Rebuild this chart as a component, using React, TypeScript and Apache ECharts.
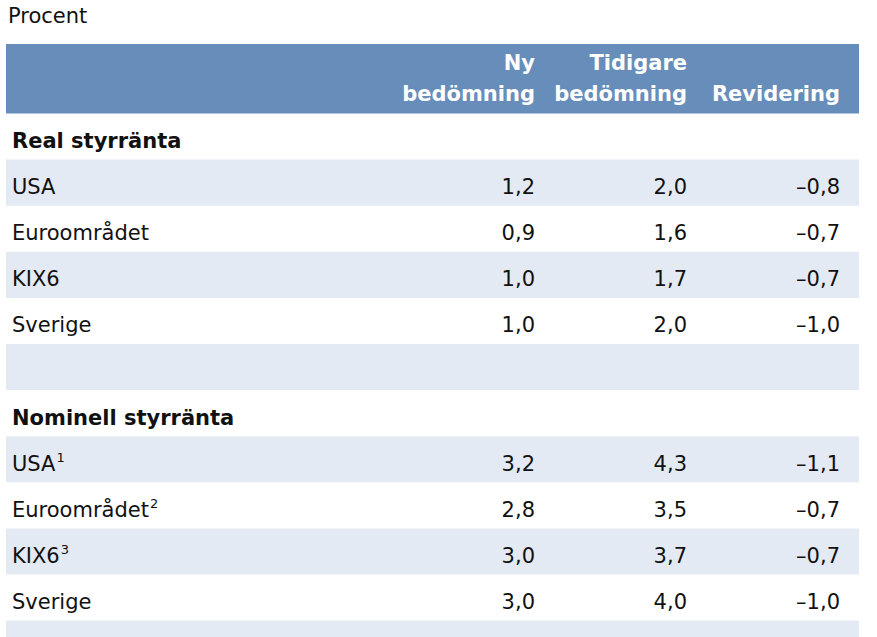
import React, { useEffect, useRef } from "react";
import * as echarts from "echarts";

const unitLabel = "Procent";
const columnHeaders = [
  ["Ny", "bedömning"],
  ["Tidigare", "bedömning"],
  ["", "Revidering"],
];
const sectionTitles = ["Real styrränta", "Nominell styrränta"];
const realCategories = ["USA", "Euroområdet", "KIX6", "Sverige"];
const realNew = [1.2, 0.9, 1.0, 1.0];
const realPrev = [2.0, 1.6, 1.7, 2.0];
const realRevision = [-0.8, -0.7, -0.7, -1.0];
const nominalCategories = ["USA", "Euroområdet", "KIX6", "Sverige"];
const nominalFootnotes = ["1", "2", "3", ""];
const nominalNew = [3.2, 2.8, 3.0, 3.0];
const nominalPrev = [4.3, 3.5, 3.7, 4.0];
const nominalRevision = [-1.1, -0.7, -0.7, -1.0];

const FONT = "DejaVu Sans, Verdana, sans-serif";
const HEADER_BG = "#678EBA";
const SHADE = "#E4EAF3";
const TEXT = "#111111";

function fmt(v: number): string {
  const s = Math.abs(v).toFixed(1).replace(".", ",");
  return v < 0 ? "\u2013" + s : s;
}

type Row =
  | { kind: "section"; title: string }
  | { kind: "data"; label: string; note: string; vals: number[] }
  | { kind: "empty" };

function buildRows(): Row[] {
  const rows: Row[] = [];
  rows.push({ kind: "section", title: sectionTitles[0] });
  realCategories.forEach((c, i) =>
    rows.push({ kind: "data", label: c, note: "", vals: [realNew[i], realPrev[i], realRevision[i]] })
  );
  rows.push({ kind: "empty" });
  rows.push({ kind: "section", title: sectionTitles[1] });
  nominalCategories.forEach((c, i) =>
    rows.push({
      kind: "data",
      label: c,
      note: nominalFootnotes[i],
      vals: [nominalNew[i], nominalPrev[i], nominalRevision[i]],
    })
  );
  rows.push({ kind: "empty" });
  return rows;
}

export default function App() {
  const ref = useRef<HTMLDivElement>(null);
  useEffect(() => {
    if (!ref.current) return;
    const chart = echarts.init(ref.current, null, { renderer: "svg" });
    const left = 6;
    const right = 859;
    const colRight = [535, 687, 840];
    const rowTop0 = 113.5;
    const rowH = 46.1;
    const elements: any[] = [];

    elements.push({
      type: "text",
      x: 8,
      y: 16,
      style: { text: unitLabel, font: `21px ${FONT}`, fill: TEXT, textVerticalAlign: "middle" },
    });
    elements.push({
      type: "rect",
      shape: { x: left, y: 44, width: right - left, height: 69.5 },
      style: { fill: HEADER_BG },
    });
    columnHeaders.forEach((h, j) => {
      h.forEach((line, k) => {
        if (!line) return;
        elements.push({
          type: "text",
          x: colRight[j],
          y: k === 0 ? 63 : 94,
          style: {
            text: line,
            font: `bold 21px ${FONT}`,
            fill: "#ffffff",
            textAlign: "right",
            textVerticalAlign: "middle",
          },
        });
      });
    });

    const rows = buildRows();
    let shadeToggle = false;
    rows.forEach((r, i) => {
      const top = rowTop0 + i * rowH;
      const cy = top + rowH / 2 + 4.5;
      let shaded = false;
      if (r.kind === "section") {
        shadeToggle = true;
      } else {
        shaded = shadeToggle;
        shadeToggle = !shadeToggle;
      }
      if (shaded) {
        elements.push({
          type: "rect",
          shape: { x: left, y: top, width: right - left, height: rowH },
          style: { fill: SHADE },
        });
      }
      if (r.kind === "section") {
        elements.push({
          type: "text",
          x: 12,
          y: cy,
          style: {
            text: r.title,
            font: `bold 21px ${FONT}`,
            fill: TEXT,
            textVerticalAlign: "middle",
          },
        });
      } else if (r.kind === "data") {
        elements.push({
          type: "text",
          x: 12,
          y: cy,
          style: {
            text: r.note ? `{a|${r.label}}{s|${r.note}}` : `{a|${r.label}}`,
            fill: TEXT,
            textVerticalAlign: "middle",
            rich: {
              a: { fontSize: 21, fontFamily: FONT, fill: TEXT, lineHeight: 26 },
              s: {
                fontSize: 13,
                fontFamily: FONT,
                fill: TEXT,
                verticalAlign: "top",
                padding: [0, 0, 10, 1],
                lineHeight: 26,
              },
            },
          },
        });
        r.vals.forEach((v, j) => {
          elements.push({
            type: "text",
            x: colRight[j],
            y: cy,
            style: {
              text: fmt(v),
              font: `21px ${FONT}`,
              fill: TEXT,
              textAlign: "right",
              textVerticalAlign: "middle",
            },
          });
        });
      }
    });

    chart.setOption({
      animation: false,
      backgroundColor: "#ffffff",
      graphic: { elements },
    });
    return () => chart.dispose();
  }, []);
  return (
    <div
      ref={ref}
      style={{ position: "fixed", left: 0, top: 0, width: 877, height: 637 }}
    />
  );
}
